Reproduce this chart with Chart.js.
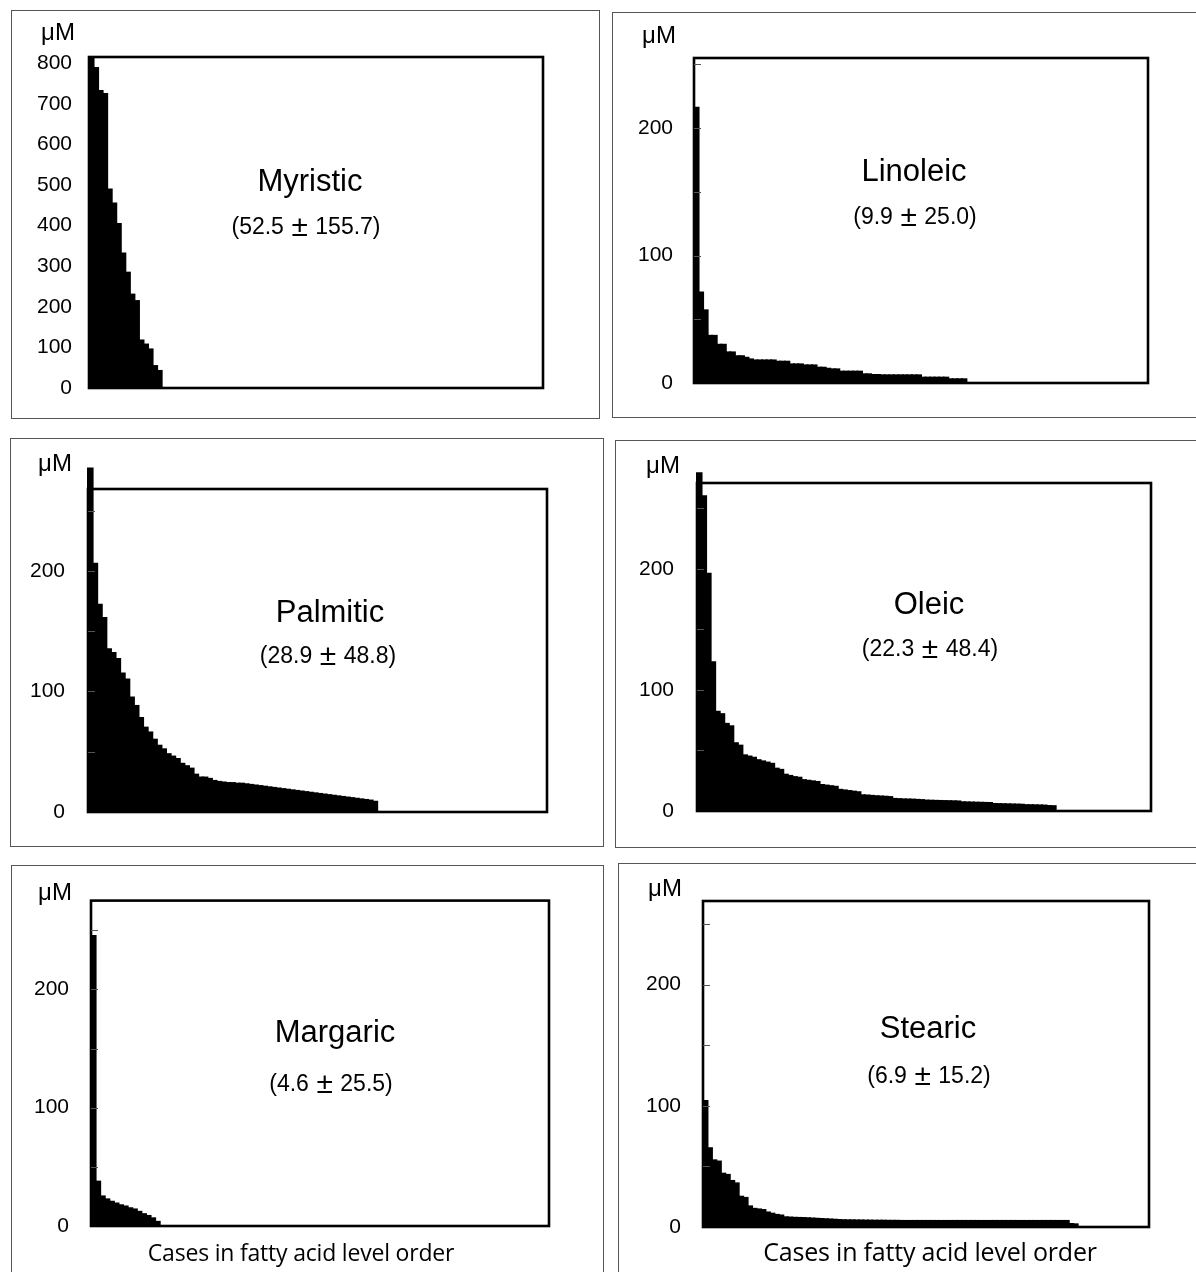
<!DOCTYPE html>
<html>
<head>
<meta charset="utf-8">
<script src="https://cdn.jsdelivr.net/npm/chart.js@4.4.1/dist/chart.umd.min.js"></script>
<style>
  html, body { margin: 0; padding: 0; background: #fff; }
  #page { position: relative; width: 1196px; height: 1272px; overflow: hidden; }
  .box { position: absolute; border: 1px solid #555; box-sizing: border-box; }
  .box canvas { position: absolute; left: 0; top: 0; }
  .txt { position: absolute; transform: translate(-50%, -50%); white-space: nowrap; color: #000;
         font-family: "Liberation Sans", Arial, sans-serif; line-height: 1; z-index: 2; }
  .title { font-size: 31px; }
  .stat { font-size: 23px; }
  .pm { display: inline-block; width: 1.05em; text-align: center; font-size: 1.3em; vertical-align: -0.08em; }
  .unit { font-size: 24px; }
  .xlab { font-family: "Open Sans", sans-serif; letter-spacing: -0.2px; }
</style>
</head>
<body>
<div id="page"></div>
<script>
'use strict';

// cases in fatty acid level order (x axis)
const cases = Array.from({ length: 100 }, (_, i) => i + 1);

// levels in uM, highest case first
const myristicValues = [815, 788, 731, 724, 489, 454, 404, 331, 284, 230, 214, 117, 107, 95, 54, 42];
const linoleicValues = [216, 71, 57, 37, 37, 30, 30, 24, 24, 21, 21, 19.8, 18.5, 17.7, 17.7, 17.7, 17.7, 17.7,
  16.7, 16.7, 16.7, 14.6, 14.6, 14.6, 13.8, 13.8, 13.8, 12, 12, 11.2, 10.7, 10.7, 8.9, 8.9, 8.9, 8.9, 8.9,
  6.8, 6.8, 6.3, 6.3, 6, 6, 6, 6, 6, 6, 6, 6, 6, 4.2, 4.2, 4.2, 4.2, 4.2, 4.2, 2.9, 2.9, 2.9, 2.9];
const palmiticValues = [285, 206, 172, 161, 135, 132, 127, 115, 110, 95, 88, 78, 70, 66, 60, 55, 52, 48, 46, 44,
  40, 38, 36, 31, 28.6, 28.6, 27.5, 25.8, 25, 24.5, 24, 24, 23.5, 23.5, 23, 22.5, 22, 21.5, 21, 20.5,
  20, 19.5, 19, 18.5, 18, 17.5, 17, 16.5, 16, 15.5, 15, 14.5, 14, 13.5, 13, 12.5, 12, 11.5, 11, 10.5, 10, 9.5, 8.5];
const oleicValues = [279, 260, 196, 123, 82, 80, 72, 70, 56, 54, 46, 45, 44, 42, 41, 40, 39, 35, 34, 30,
  29, 28, 27.5, 25.5, 25, 24.5, 24, 21.5, 21, 20.5, 20, 17.5, 17, 16.5, 16, 15.5, 13, 12.8, 12.5, 12.2,
  12, 11.8, 11.5, 10, 9.8, 9.6, 9.5, 9.4, 9.2, 9, 8.6, 8.5, 8.4, 8.3, 8.2, 8.1, 8, 7.9, 7.2, 7.1,
  7, 6.9, 6.8, 6.7, 6.6, 5.8, 5.7, 5.6, 5.5, 5.4, 5.3, 5.2, 4.8, 4.8, 4.7, 4.6, 4.5, 4.1, 4.0];
const margaricValues = [245, 37.5, 25, 22.5, 20.5, 19, 17.5, 16.5, 15, 14, 12, 10, 8.5, 6.5, 3.5];
const stearicValues = [104, 65, 55, 54, 44, 43, 38, 36, 25, 24, 17, 15, 14.5, 14, 12, 11, 10, 9.5, 8, 7.8,
  7.6, 7.5, 7.4, 7.2, 7, 6.8, 6.6, 6.4, 6.2, 6, 5.8, 5.6, 5.5, 5.5, 5.4, 5.4, 5.3, 5.3, 5.2, 5.2,
  5.2, 5.1, 5.1, 5.1, 5, 5, 5, 5, 5, 5, 5, 5, 5, 5, 5, 5, 5, 5, 5, 5,
  5, 5, 5, 5, 5, 5, 5, 5, 5, 5, 5, 5, 5, 5, 5, 5, 5, 5, 5, 5, 5, 5, 2.5, 2.2];

// y tick labels and small tick marks
const myristicTicks = [0, 100, 200, 300, 400, 500, 600, 700, 800];
const acidTicks = [0, 100, 200];
const acidMarks = [50, 100, 150, 200, 250];

// mean +- SD shown under each name
const myristicStat = ['52.5', '155.7'];
const linoleicStat = ['9.9', '25.0'];
const palmiticStat = ['28.9', '48.8'];
const oleicStat = ['22.3', '48.4'];
const margaricStat = ['4.6', '25.5'];
const stearicStat = ['6.9', '15.2'];

const xTitle = 'Cases in fatty acid level order';

// layout: box = outer frame [l, t, r, b], plot = chart area [l, t, r, b]
const panels = [
  { title: 'Myristic', stat: myristicStat, values: myristicValues, ticks: myristicTicks, marks: [], max: 815,
    box: [11, 10, 600, 419], plot: [88, 56, 542, 387], gap: 17, unit: [58, 32], at: [310, 180], statAt: [306, 226], sides: 'tlrb' },
  { title: 'Linoleic', stat: linoleicStat, values: linoleicValues, ticks: acidTicks, marks: acidMarks, max: 255,
    box: [612, 12, 1196, 418], plot: [693, 57, 1147, 382], gap: 21, unit: [659, 35], at: [914, 170], statAt: [915, 216], sides: 'tlb' },
  { title: 'Palmitic', stat: palmiticStat, values: palmiticValues, ticks: acidTicks, marks: acidMarks, max: 268,
    box: [10, 438, 604, 847], plot: [87, 488, 546, 811], gap: 23, unit: [55, 463], at: [330, 611], statAt: [328, 655], sides: 'tlrb' },
  { title: 'Oleic', stat: oleicStat, values: oleicValues, ticks: acidTicks, marks: acidMarks, max: 271,
    box: [615, 440, 1196, 848], plot: [696, 482, 1150, 810], gap: 23, unit: [663, 465], at: [929, 603], statAt: [930, 648], sides: 'tlb' },
  { title: 'Margaric', stat: margaricStat, values: margaricValues, ticks: acidTicks, marks: acidMarks, max: 275,
    box: [11, 865, 604, 1272], plot: [90, 895, 548, 1225], gap: 22, unit: [55, 892], at: [335, 1031], statAt: [331, 1083], sides: 'tlr',
    xlab: [301, 1252, 23] },
  { title: 'Stearic', stat: stearicStat, values: stearicValues, ticks: acidTicks, marks: acidMarks, max: 269,
    box: [618, 863, 1196, 1272], plot: [702, 900, 1148, 1226], gap: 22, unit: [665, 888], at: [928, 1027], statAt: [929, 1075], sides: 'tl',
    xlab: [930, 1251, 25] }
];

const Y_WIDTH = 70;

// thick frame round the plot area, and the small inner tick marks
const plotFrame = {
  id: 'plotFrame',
  afterDatasetsDraw(chart, args, opts) {
    const a = chart.chartArea;
    const y = chart.scales.y;
    const ctx = chart.ctx;
    ctx.save();
    ctx.strokeStyle = '#000';
    ctx.lineWidth = 2.6;
    ctx.strokeRect(a.left, a.top, a.right - a.left, a.bottom - a.top);
    ctx.lineWidth = 1;
    ctx.strokeStyle = '#555';
    (opts.marks || []).forEach(function (v) {
      const py = Math.round(y.getPixelForValue(v)) + 0.5;
      ctx.beginPath();
      ctx.moveTo(a.left, py);
      ctx.lineTo(a.left + 7, py);
      ctx.stroke();
    });
    ctx.restore();
  }
};

const page = document.getElementById('page');

function addText(cls, html, x, y, size) {
  const d = document.createElement('div');
  d.className = 'txt ' + cls;
  d.innerHTML = html;
  d.style.left = x + 'px';
  d.style.top = y + 'px';
  if (size) d.style.fontSize = size + 'px';
  page.appendChild(d);
}

panels.forEach(function (p) {
  const [bl, bt, br, bb] = p.box;
  const w = br - bl, h = bb - bt;
  const box = document.createElement('div');
  box.className = 'box';
  box.style.left = bl + 'px';
  box.style.top = bt + 'px';
  box.style.width = w + 'px';
  box.style.height = h + 'px';
  if (p.sides.indexOf('r') < 0) box.style.borderRight = 'none';
  if (p.sides.indexOf('b') < 0) box.style.borderBottom = 'none';
  const canvas = document.createElement('canvas');
  canvas.width = w;
  canvas.height = h;
  box.appendChild(canvas);
  page.appendChild(box);

  // wanted chart area, relative to the canvas
  const want = { left: p.plot[0] - bl, top: p.plot[1] - bt, right: p.plot[2] - bl, bottom: p.plot[3] - bt };

  const chart = new Chart(canvas, {
    type: 'bar',
    data: {
      labels: cases,
      datasets: [{
        data: p.values,
        backgroundColor: '#000',
        borderWidth: 0,
        barPercentage: 1,
        categoryPercentage: 1,
        inflateAmount: 1,
        clip: false
      }]
    },
    options: {
      responsive: false,
      animation: false,
      events: [],
      layout: { padding: { left: want.left - Y_WIDTH, top: want.top, right: w - want.right, bottom: h - want.bottom } },
      plugins: { legend: { display: false }, tooltip: { enabled: false }, plotFrame: { marks: p.marks } },
      scales: {
        x: { type: 'category', display: false, offset: true },
        y: {
          min: 0,
          max: p.max,
          afterBuildTicks: function (s) { s.ticks = p.ticks.map(function (v) { return { value: v }; }); },
          afterFit: function (s) { s.width = Y_WIDTH; },
          grid: { display: false, drawTicks: false },
          border: { display: false },
          ticks: {
            padding: p.gap,
            color: '#000',
            font: { family: 'Liberation Sans', size: 21 },
            callback: function (v) { return String(v); }
          }
        }
      }
    },
    plugins: [plotFrame]
  });

  // nudge the padding so the chart area sits where the picture has it
  for (let i = 0; i < 2; i++) {
    const a = chart.chartArea;
    const pad = chart.options.layout.padding;
    chart.options.layout.padding = {
      left: pad.left + (want.left - a.left),
      top: pad.top + (want.top - a.top),
      right: pad.right + (a.right - want.right),
      bottom: pad.bottom + (a.bottom - want.bottom)
    };
    chart.update('none');
  }

  addText('unit', '\u03bcM', p.unit[0], p.unit[1]);
  addText('title', p.title, p.at[0], p.at[1]);
  addText('stat', '(' + p.stat[0] + '<span class="pm">\u00b1</span>' + p.stat[1] + ')', p.statAt[0], p.statAt[1]);
  if (p.xlab) addText('xlab', xTitle, p.xlab[0], p.xlab[1], p.xlab[2]);
});
</script>
</body>
</html>
